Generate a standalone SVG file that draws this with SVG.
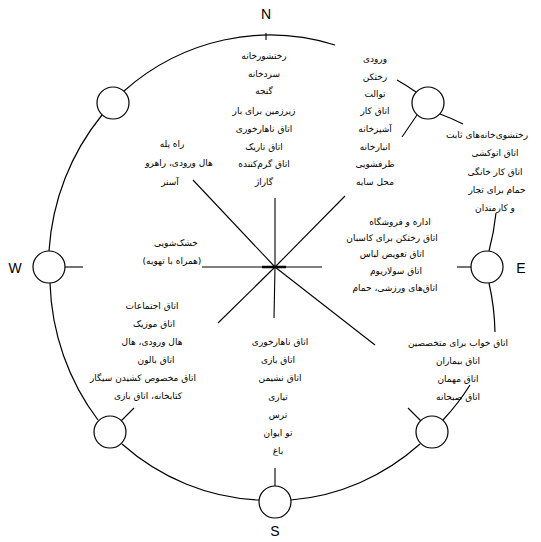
<svg xmlns="http://www.w3.org/2000/svg" width="541" height="542" viewBox="0 0 541 542">
<style>
.ring{fill:none;stroke:#000;stroke-width:1.2}
.ln{stroke:#000;stroke-width:1.1;fill:none}
.nd{fill:#fff;stroke:#000;stroke-width:1.2}
.t{font-family:"DejaVu Sans",sans-serif;font-size:9px;text-anchor:middle;direction:rtl;fill:#000}
.d{font-family:"Liberation Sans",Arial,sans-serif;font-size:14px;text-anchor:middle;fill:#000}
</style>
<rect width="541" height="542" fill="#fff"/>
<g id="connectors">
<path class="ring" d="M49,251 A225,234 0 0 1 102,115"/>
<path class="ring" d="M124,91 A225,234 0 0 1 335,45"/>
<path class="ln" d="M266,33 V40"/>
<path class="ring" d="M397,80 A225,234 0 0 1 416,92"/>
<path class="ring" d="M440,114 A225,234 0 0 1 463,124"/>
<path class="ring" d="M496,213 A225,234 0 0 1 489,251"/>
<path class="ring" d="M489,283 A225,234 0 0 1 495,332"/>
<path class="ring" d="M470,385 A225,234 0 0 1 443,420"/>
<path class="ring" d="M420,444 A225,234 0 0 1 291,500"/>
<path class="ring" d="M259,500 A225,234 0 0 1 122,444"/>
<path class="ring" d="M98,420 A225,234 0 0 1 50,283"/>
<path class="ln" d="M417,115 L402,137"/>
<path class="ln" d="M472,267 H457"/>
<path class="ln" d="M64,267 H83"/>
<path class="ln" d="M275,486 V468"/>
<path class="ln" d="M421,421 L408,408"/>
<path class="ln" d="M121,421 L134,408"/>
<path class="ln" d="M275,267 L193,180"/>
<path class="ln" d="M275,267 V198"/>
<path class="ln" d="M275,267 L345,196"/>
<path class="ln" d="M202,267 H322"/>
<path class="ln" d="M262,267 H286" style="stroke-width:2.5"/>
<path class="ln" d="M275,267 L218,323"/>
<path class="ln" d="M275,267 L274,318"/>
<path class="ln" d="M275,267 L375,345"/>
</g>
<g id="node-N"><text class="d" x="266" y="19">N</text></g>
<g id="node-NW"><circle class="nd" cx="113" cy="103" r="16"/></g>
<g id="node-NE"><circle class="nd" cx="428" cy="103" r="16"/></g>
<g id="node-W"><circle class="nd" cx="49" cy="267" r="16"/><text class="d" x="15" y="273">W</text></g>
<g id="node-E"><circle class="nd" cx="487" cy="267" r="16"/><text class="d" x="521" y="273">E</text></g>
<g id="node-SW"><circle class="nd" cx="110" cy="432" r="16"/></g>
<g id="node-SE"><circle class="nd" cx="432" cy="432" r="16"/></g>
<g id="node-S"><circle class="nd" cx="275" cy="502" r="16"/><text class="d" x="275" y="536">S</text></g>
<g id="label-north">
<text class="t" x="264" y="59">رختشورخانه</text>
<text class="t" x="264" y="77">سردخانه</text>
<text class="t" x="264" y="94">گنجه</text>
<text class="t" x="264" y="114">زیرزمین برای بار</text>
<text class="t" x="264" y="132">اتاق ناهارخوری</text>
<text class="t" x="264" y="150">اتاق تاریک</text>
<text class="t" x="264" y="167">اتاق گرم‌کننده</text>
<text class="t" x="264" y="185">گاراژ</text>
</g>
<g id="label-northeast">
<text class="t" x="375" y="62">ورودی</text>
<text class="t" x="375" y="80">رختکن</text>
<text class="t" x="375" y="97">توالت</text>
<text class="t" x="375" y="114">اتاق کار</text>
<text class="t" x="375" y="132">آشپزخانه</text>
<text class="t" x="375" y="150">انبارخانه</text>
<text class="t" x="375" y="167">ظرفشویی</text>
<text class="t" x="375" y="185">محل سایه</text>
</g>
<g id="label-east">
<text class="t" x="487" y="138">رختشوی‌خانه‌های ثابت</text>
<text class="t" x="495" y="156">اتاق اتوکشی</text>
<text class="t" x="495" y="175">اتاق کار خانگی</text>
<text class="t" x="497" y="193">حمام برای تجار</text>
<text class="t" x="495" y="211">و کارمندان</text>
</g>
<g id="label-east-inner">
<text class="t" x="400" y="225">اداره و فروشگاه</text>
<text class="t" x="392" y="241">اتاق رختکن برای کاسبان</text>
<text class="t" x="392" y="257">اتاق تعویض لباس</text>
<text class="t" x="396" y="274">اتاق سولاریوم</text>
<text class="t" x="395" y="291">اتاق‌های ورزشی، حمام</text>
</g>
<g id="label-northwest">
<text class="t" x="172" y="147">راه پله</text>
<text class="t" x="179" y="166">هال ورودی، راهرو</text>
<text class="t" x="170" y="185">آسنر</text>
</g>
<g id="label-west">
<text class="t" x="176" y="246">خشک‌شویی</text>
<text class="t" x="172" y="264">(همراه با تهویه)</text>
</g>
<g id="label-southwest">
<text class="t" x="152" y="309">اتاق اجتماعات</text>
<text class="t" x="154" y="327">اتاق موزیک</text>
<text class="t" x="152" y="345">هال ورودی، هال</text>
<text class="t" x="156" y="363">اتاق بالون</text>
<text class="t" x="143" y="381">اتاق مخصوص کشیدن سیگار</text>
<text class="t" x="148" y="399">کتابخانه، اتاق بازی</text>
</g>
<g id="label-south">
<text class="t" x="280" y="345">اتاق ناهارخوری</text>
<text class="t" x="278" y="363">اتاق بازی</text>
<text class="t" x="280" y="381">اتاق نشیمن</text>
<text class="t" x="278" y="400">تیاری</text>
<text class="t" x="278" y="418">ترس</text>
<text class="t" x="278" y="436">تو ایوان</text>
<text class="t" x="278" y="454">باغ</text>
</g>
<g id="label-southeast">
<text class="t" x="458" y="346">اتاق خواب برای متخصصین</text>
<text class="t" x="458" y="364">اتاق بیماران</text>
<text class="t" x="458" y="382">اتاق مهمان</text>
<text class="t" x="458" y="400">اتاق صبحانه</text>
</g>
</svg>
